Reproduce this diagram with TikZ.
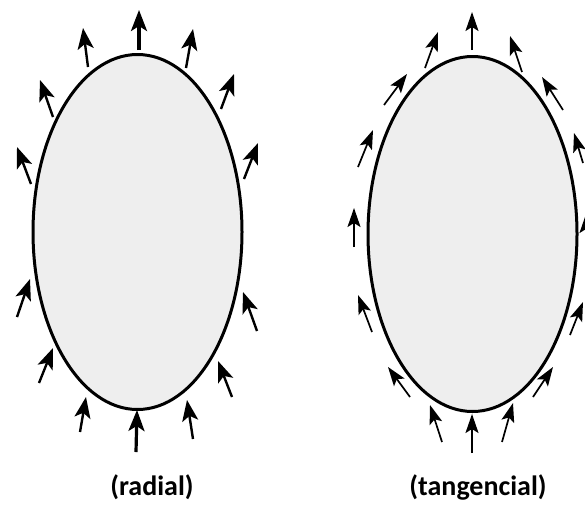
\documentclass[tikz,border=0pt]{standalone}
\usepackage{fontspec}
\setmainfont{Carlito}
\usetikzlibrary{arrows.meta}

\begin{document}
\begin{tikzpicture}[x=1pt,y=1pt,yscale=-1,
  body/.style={draw=black,fill={rgb,255:red,238;green,238;blue,238},line width=3pt},
  rad/.style={line width=2.4pt,arrows={-Stealth[length=21pt,width=16pt,inset=5pt]}},
  tan/.style={line width=1.7pt,arrows={-Stealth[length=19pt,width=13pt,inset=4pt]}},
  lbl/.style={inner sep=0.75pt,font=\bfseries\fontsize{28}{32}\selectfont}]
\useasboundingbox (0,0) rectangle (585,504);

%Ellipses
\draw [body] (137.5,232) ellipse [x radius=104.5,y radius=177.5];
\draw [body] (472.5,234) ellipse [x radius=104.5,y radius=177.5];

%Radial arrows, out of the upper half
\draw [rad,line width=3.2pt] (139,50) -- (139,10);
\draw [rad] (88,67) -- (83,28);
\draw [rad] (186,68) -- (193,29);
\draw [rad] (53,117) -- (40,80);
\draw [rad] (221,109) -- (234,74);
\draw [rad] (31,184) -- (17,147);
\draw [rad] (244,179) -- (258,143);
%Radial arrows, into the lower half
\draw [rad] (17,317) -- (30,279);
\draw [rad] (39,383) -- (53,348);
\draw [rad] (80,432) -- (86,397);
\draw [rad,line width=3.2pt] (136,452) -- (137,410);
\draw [rad] (193,439) -- (187,400);
\draw [rad] (232,397) -- (218,361);
\draw [rad] (257,331) -- (243,292);

%Tangential arrows, left side
\draw [tan] (472,50) -- (472,12);
\draw [tan] (425,68) -- (438,32);
\draw [tan] (384,105) -- (407,74);
\draw [tan] (358,167) -- (373,130);
\draw [tan] (354,247) -- (354,208);
\draw [tan] (372,332) -- (358,295);
\draw [tan] (410,397) -- (388,367);
\draw [tan] (442,442) -- (430,405);
\draw [tan] (472,453) -- (472,414);
%Tangential arrows, right side
\draw [tan] (522,72) -- (510,36);
\draw [tan] (563,110) -- (542,77);
\draw [tan] (583,163) -- (574,133);
\draw [tan] (586,252) -- (586,214);
\draw [tan] (570,335) -- (583,302);
\draw [tan] (533,397) -- (553,367);
\draw [tan] (502,442) -- (513,403);

% Text Node
\node [lbl] (radial) at (152,487) {(radial)};
% Text Node
\node [lbl] (tangencial) at (478,487) {(tangencial)};

\end{tikzpicture}
\end{document}
